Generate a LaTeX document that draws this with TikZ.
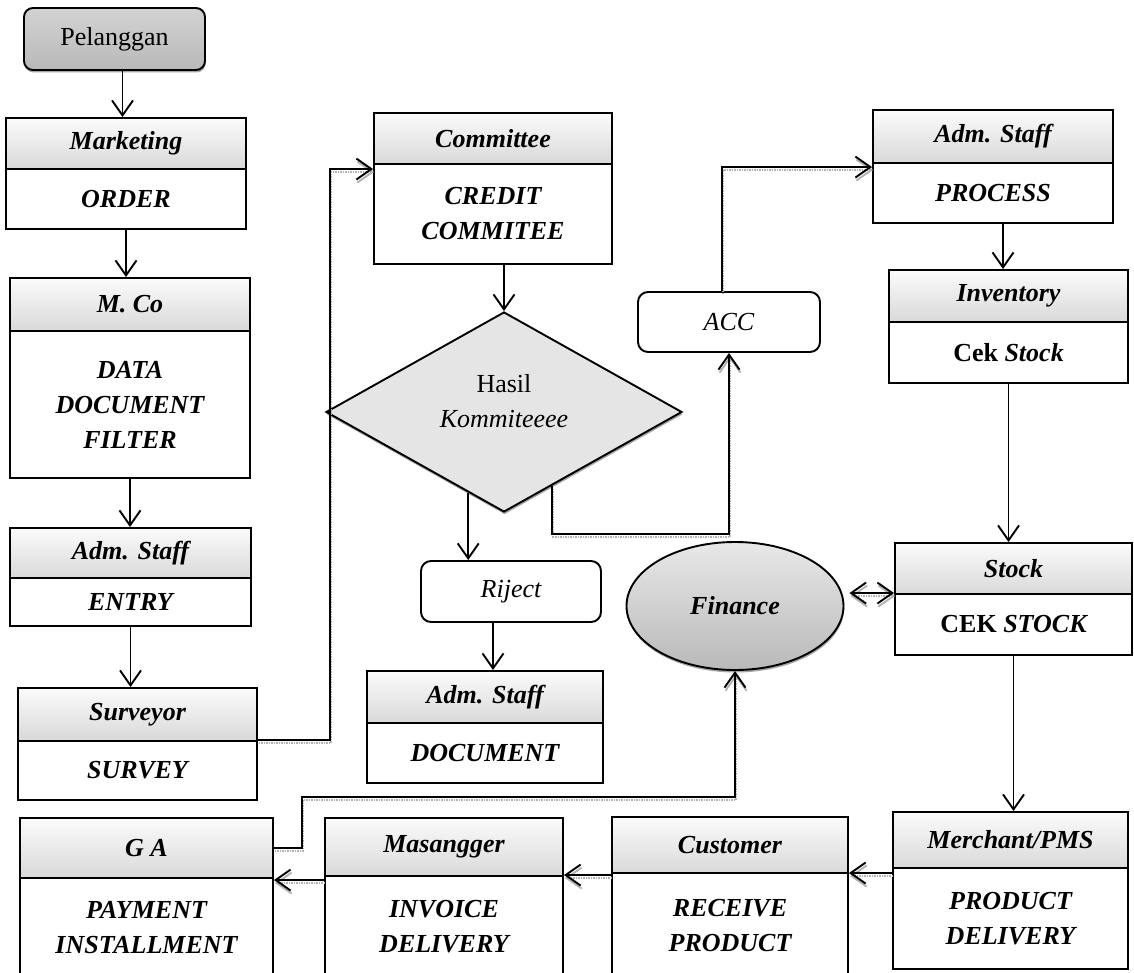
\documentclass[tikz,border=0pt]{standalone}
\usepackage{fontspec}
\setmainfont{Liberation Serif}
\usetikzlibrary{arrows.meta,shapes.geometric,calc,shadows}

\newcommand\figfont{\fontsize{26}{35}\selectfont}

\tikzset{
  box/.style={draw, line width=1.9pt, inner sep=0pt, align=center},
  hdr/.style={box, top color=gray!3, bottom color=gray!30, font=\figfont\bfseries\itshape},
  bdy/.style={box, fill=white, font=\figfont\bfseries\itshape},
  rbox/.style={draw, line width=1.9pt, rounded corners=10pt, fill=white, inner sep=0pt, font=\figfont\itshape},
  barb/.tip={Straight Barb[length=15pt,width=21pt,line width=1.9pt]},
  conn/.style={line width=1.9pt, -barb},
  conn2/.style={line width=1.9pt, barb-barb},
  ghost/.style={preaction={draw=gray!60, line width=1.9pt, dash pattern=on 1.5pt off 1pt,
      transform canvas={xshift=1pt,yshift=-3pt}}},
  softshadow/.style={drop shadow={shadow xshift=0.6pt, shadow yshift=-2.5pt, fill=gray!70, opacity=1}},
}

% two-part box: name, x1, y1, x2, y(divider), y2, header, body
\newcommand\flowbox[8]{%
  \node[hdr, minimum width={(#4-#2)*1pt}, minimum height={(#5-#3)*1pt}]
    (#1-h) at ({(#2+#4)/2},{(#3+#5)/2}) {#7};
  \node[bdy, minimum width={(#4-#2)*1pt}, minimum height={(#6-#5)*1pt}]
    (#1-b) at ({(#2+#4)/2},{(#5+#6)/2}) {#8};
}

\begin{document}
\begin{tikzpicture}[x=1pt, y=-1pt]
\useasboundingbox (0,0) rectangle (1134,973);
\fill[white] (0,0) rectangle (1134,973);
\begin{scope}
\clip (0,0) rectangle (1134,973);

% start
\node[draw, line width=1.9pt, rounded corners=9pt, top color=gray!35, middle color=gray!12,
      bottom color=gray!55, softshadow, minimum width=181pt, minimum height=62pt,
      inner sep=0pt, font=\figfont] (pel) at (114.5,39) {Pelanggan};

% left column
\flowbox{mk}{6}{118}{246}{169}{229}{Marketing}{ORDER}
\flowbox{mc}{10}{278}{250}{331}{478}{M. Co}{DATA\\DOCUMENT\\FILTER}
\flowbox{en}{10}{528}{251}{578}{626}{Adm. Staff}{ENTRY}
\flowbox{sv}{18}{688}{257}{741}{800}{Surveyor}{SURVEY}

% middle column
\flowbox{cm}{374}{113}{612}{164}{264}{Committee}{CREDIT\\COMMITEE}
\node[diamond, draw, line width=1.9pt, fill=gray!20, softshadow, aspect=1.78,
      minimum width=356pt, minimum height=200pt, inner sep=0pt] (dia) at (504,412) {};
\node[font=\figfont, align=center] (diaTxt) at (504,401) {Hasil\\\textit{Kommiteeee}};
\node[rbox, minimum width=180pt, minimum height=61pt] (rj) at (511,591.5) {Riject};
\flowbox{dc}{367}{671}{603}{723}{783}{Adm. Staff}{DOCUMENT}
\node[rbox, minimum width=182pt, minimum height=60pt] (acc) at (729,322) {ACC};
\node[ellipse, draw, line width=1.9pt, top color=gray!18, bottom color=gray!55, softshadow,
      minimum width=217pt, minimum height=128pt, inner sep=0pt,
      font=\figfont\bfseries\itshape] (fin) at (735,606) {Finance};

% right column
\flowbox{pr}{873}{110}{1113}{163}{223}{Adm. Staff}{PROCESS}
\flowbox{iv}{889}{270}{1128}{322}{383}{Inventory}{{\upshape Cek} Stock}
\flowbox{st}{895}{543}{1132}{594}{655}{Stock}{{\upshape CEK} STOCK}

% bottom row
\flowbox{ga}{20}{818}{273}{878}{978}{G A}{PAYMENT\\INSTALLMENT}
\flowbox{ms}{325}{818}{563}{876}{978}{Masangger}{INVOICE\\DELIVERY}
\flowbox{cu}{612}{817}{848}{873}{978}{Customer}{RECEIVE\\PRODUCT}
\flowbox{mp}{893}{812}{1128}{868}{969}{Merchant/PMS}{PRODUCT\\DELIVERY}

% helper points on the connectors
\coordinate (pelOut) at ($(pel.south)+(8,0)$);
\coordinate (rjIn) at ($(dia.west)!0.8!(dia.south)$);
\coordinate (rjOut) at ($(rj.south)+(-18,0)$);
\coordinate (accOut) at ($(dia.south)!0.27!(dia.east)$);
\coordinate (accLow) at ($(acc.south)+(0,181)$);
\coordinate (accUp) at ($(acc.north)+(-7,0)$);
\coordinate (prOut) at ($(pr-b.south)+(10,0)$);
\coordinate (svTurn) at ($(cm-b.north west)+(-43,6)$);
\coordinate (cmIn) at ($(cm-b.north west)+(0,6)$);
\coordinate (prIn) at ($(pr-b.north west)+(0,5)$);
\coordinate (finOut) at ($(fin.east |- st-b.north west)+(5,0)$);
\coordinate (gaTurn) at (302,797);
\coordinate (mpOut) at ($(mp-b.north west)+(0,6)$);
\coordinate (cuOut) at ($(cu-b.north west)+(0,3)$);
\coordinate (msOut) at ($(ms-b.north west)+(0,5)$);

% straight flow of the left column
\draw[conn] (pelOut) -- (pelOut |- mk-h.north);
\draw[conn] (mk-b.south) -- (mk-b.south |- mc-h.north);
\draw[conn] (mc-b.south) -- (mc-b.south |- en-h.north);
\draw[conn] (en-b.south) -- (en-b.south |- sv-h.north);

% survey result goes to the committee
\draw[conn, ghost] (sv-b.north east) -| (svTurn) -- (cmIn);

% committee decision
\draw[conn] (cm-b.south -| dia.north) -- (dia.north);
\draw[conn] (rjIn) -- (rjIn |- rj.north);
\draw[conn] (rjOut) -- (rjOut |- dc-h.north);
\draw[conn, ghost] (accOut) |- (accLow) -- (acc.south);
\draw[conn, ghost] (accUp) |- (prIn);

% right column
\draw[conn] (prOut) -- (prOut |- iv-h.north);
\draw[conn] (iv-b.south) -- (iv-b.south |- st-h.north);
\draw[conn] (st-b.south) -- (st-b.south |- mp-h.north);
\draw[conn2, ghost] (finOut) -- (st-b.north west);

% delivery chain back to the left
\draw[conn, ghost] (mpOut) -- (mpOut -| cu-b.east);
\draw[conn, ghost] (cuOut) -- (cuOut -| ms-b.east);
\draw[conn, ghost] (msOut) -- (msOut -| ga-b.east);

% payment reaches finance
\draw[conn, ghost] (ga-h.east) -| (gaTurn) -| (fin.south);
\end{scope}
\end{tikzpicture}
\end{document}
